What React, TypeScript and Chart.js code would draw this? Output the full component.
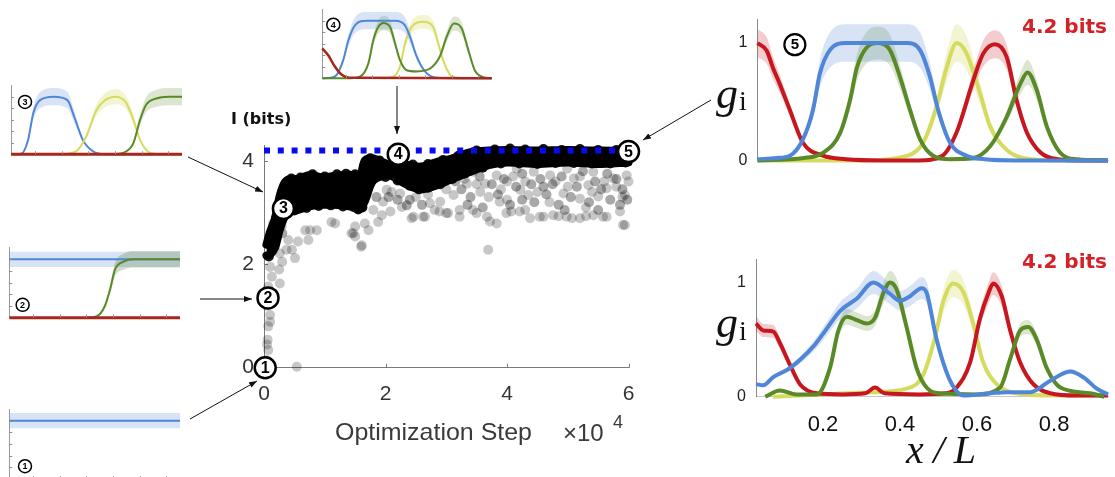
import React, { useEffect, useRef } from "react";
import { Chart, registerables } from "chart.js";

Chart.register(...registerables);
Chart.defaults.font.family = "'Liberation Sans', Arial, sans-serif";

// ================= DATA =================
// ---- main panel: information I (bits) vs optimization step (x 10^4)
const mainXTicks = [0, 2, 4, 6];
const mainYTicks = [0, 2, 4];
const maxInfoBits = 4.2;
// dense (saturated black) band of the scatter: upper / lower edge
const denseX = [0.04, 0.1, 0.18, 0.26, 0.34, 0.42, 0.55, 0.75, 0.95, 1.15, 1.4, 1.58, 1.66, 1.8, 2.05, 2.3, 2.57, 2.85, 3.1, 3.4, 3.7, 4.0, 4.5, 5.0, 5.5, 6.0];
const denseTop = [2.38, 2.63, 2.88, 3.33, 3.58, 3.65, 3.65, 3.73, 3.68, 3.71, 3.73, 3.73, 4.01, 4.05, 3.93, 3.93, 3.89, 3.98, 4.05, 4.17, 4.2, 4.21, 4.2, 4.21, 4.2, 4.19];
const denseBot = [2.17, 2.19, 2.32, 2.67, 2.92, 3.02, 3.05, 3.12, 3.15, 3.15, 3.12, 3.07, 3.22, 3.62, 3.72, 3.57, 3.45, 3.53, 3.65, 3.79, 3.92, 3.97, 3.94, 3.97, 3.94, 3.97];
// near-black samples along the edges of the dense band
const darkDots: [number, number][] = [
  [0.45, 3.66], [0.6, 3.68], [0.8, 3.74], [1.0, 3.7], [1.2, 3.74], [1.35, 3.75], [1.5, 3.74], [1.75, 4.05], [1.9, 4.01],
  [2.2, 3.94], [2.45, 3.93], [2.7, 3.94], [2.95, 4.02], [3.2, 4.1], [3.5, 4.2], [3.8, 4.22], [4.05, 4.24], [4.3, 4.22],
  [4.6, 4.23], [4.9, 4.21], [5.2, 4.23], [5.5, 4.21], [5.8, 4.21], [0.5, 3.04], [0.7, 3.09], [0.9, 3.13], [1.1, 3.14],
  [1.3, 3.12], [1.55, 3.06], [1.62, 3.1], [2.0, 3.69], [2.2, 3.62], [2.4, 3.52], [2.55, 3.45], [2.7, 3.48], [2.9, 3.55],
  [3.1, 3.65], [3.3, 3.75], [3.6, 3.87], [3.9, 3.95], [4.2, 3.95], [4.5, 3.94], [4.8, 3.96], [5.1, 3.96], [5.4, 3.95],
  [5.7, 3.95], [5.95, 3.97], [0.08, 2.15], [0.2, 2.9],
];
// medium grey samples just below the band
const mediumDots: [number, number][] = [
  [3.25, 3.45], [3.4, 3.3], [3.55, 3.7], [3.75, 3.55], [3.85, 3.35], [3.95, 3.65], [4.05, 3.15], [4.15, 3.5], [4.25, 3.75],
  [4.4, 3.55], [4.45, 3.2], [4.55, 3.65], [4.65, 3.35], [4.75, 3.55], [4.85, 3.15], [4.9, 3.7], [5.05, 3.3], [5.15, 3.5],
  [5.25, 3.8], [5.35, 3.2], [5.45, 3.6], [5.55, 3.45], [5.65, 3.75], [5.7, 3.25], [5.8, 3.65], [5.9, 3.45], [5.98, 3.25],
  [3.35, 3.15], [3.6, 3.1], [4.25, 3.25], [4.95, 3.05], [5.5, 3.05], [3.15, 3.6], [2.95, 3.6], [2.6, 3.15], [2.4, 3.25],
  [2.2, 3.25], [2.05, 3.3], [4.6, 3.5], [5.86, 3.15], [2.35, 3.14], [1.85, 3.3], [0.3, 2.6], [0.15, 2.6],
];
// individual translucent samples
const lightDots: [number, number][] = [
  [0.07, 0.34], [0.06, 0.54], [0.1, 0.89], [0.07, 0.8], [0.1, 1.02], [0.07, 1.57], [0.13, 1.76], [0.26, 1.63], [0.1, 1.95],
  [0.37, 2.28], [0.51, 2.12], [0.4, 2.47], [0.56, 2.44], [0.73, 2.47], [0.87, 2.66], [0.76, 2.66], [1.17, 2.79], [1.44, 2.6],
  [1.5, 2.54], [1.6, 2.34], [1.72, 2.66], [1.66, 2.79], [1.88, 2.82], [2.02, 3.44], [2.1, 3.4], [1.96, 3.21], [1.8, 3.05],
  [1.94, 2.95], [2.08, 3.02], [2.24, 3.37], [2.27, 3.11], [2.43, 2.89], [2.62, 2.92], [2.73, 3.18], [2.81, 3.05],
  [2.89, 3.02], [0.29, 2.73], [0.15, 2.79], [0.18, 2.34], [0.26, 2.21], [1.5, 2.73], [1.11, 2.82], [0.68, 2.66], [0.46, 2.28],
  [0.54, 0.02], [1.61, 2.37], [3.69, 2.28], [1.47, 2.6], [2.46, 2.92], [2.65, 2.92], [3.0, 2.99], [3.22, 3.05], [3.5, 2.99],
  [3.67, 2.92], [3.83, 2.79], [3.99, 2.99], [4.21, 3.02], [4.38, 2.89], [4.54, 2.92], [4.76, 2.95], [4.98, 2.92], [5.2, 2.89],
  [5.42, 2.95], [5.64, 2.92], [5.91, 2.76], [5.86, 3.02], [5.94, 2.76], [4.3, 3.05], [4.6, 2.92], [4.85, 2.93], [5.07, 2.89],
  [5.3, 2.93], [5.58, 2.92], [3.03, 2.99], [3.22, 2.92], [3.44, 3.05], [3.72, 2.83], [3.88, 3.21], [4.07, 3.02], [3.56, 3.4],
  [3.12, 3.34], [3.34, 3.56], [3.64, 3.56], [4.0, 3.6], [4.22, 3.44], [4.35, 3.34], [4.71, 3.72], [4.93, 3.37],
  [5.1, 3.66], [5.2, 3.27], [5.34, 3.53], [5.5, 3.31], [5.64, 3.47], [5.94, 3.34], [5.75, 3.66], [4.44, 3.79],
  [4.16, 3.85], [3.83, 3.72], [3.44, 3.79], [4.99, 3.85], [5.42, 3.79], [5.97, 3.72], [2.9, 3.21], [0.04, 0.15], [0.05, 0.45],
  [0.04, 1.2], [0.05, 1.4], [0.25, 1.9], [0.3, 2.05], [3.3, 3.65], [3.5, 3.55], [3.9, 3.45], [4.1, 3.7], [4.3, 3.6], [4.5, 3.4],
  [4.8, 3.6], [5.0, 3.5], [5.2, 3.7], [5.4, 3.4], [5.6, 3.6], [5.8, 3.5], [6.0, 3.6], [4.7, 3.2], [5.3, 3.1], [4.0, 3.25],
  [3.7, 3.3], [5.9, 3.3], [3.2, 3.8], [2.5, 3.3], [2.7, 3.35], [3.0, 3.45],
];
// circled stage markers on the main curve
const stageX = [0.02, 0.066, 0.32, 2.21, 6.0];
const stageY = [0, 1.35, 3.08, 4.13, 4.18];
const stageText = ["1", "2", "3", "4", "5"];

// ---- right top panel (stage 5), g_i vs x/L
const trRedX = [0.03, 0.054, 0.07, 0.088, 0.114, 0.148, 0.2, 0.26, 0.35, 0.45, 0.51, 0.547, 0.59, 0.616, 0.647, 0.677, 0.703, 0.729, 0.764, 0.81, 0.87, 0.94];
const trRedY = [1.0, 0.935, 0.79, 0.65, 0.43, 0.15, 0.04, 0.01, 0.0, 0.0, 0.04, 0.24, 0.68, 0.91, 0.99, 0.88, 0.51, 0.24, 0.07, 0.01, 0.0, 0.0];
const trBlueX = [0.03, 0.08, 0.114, 0.148, 0.174, 0.192, 0.218, 0.26, 0.34, 0.417, 0.452, 0.478, 0.499, 0.53, 0.573, 0.62, 0.7, 0.94];
const trBlueY = [0.01, 0.02, 0.04, 0.18, 0.43, 0.74, 0.94, 1.0, 1.0, 1.0, 0.94, 0.71, 0.43, 0.15, 0.04, 0.01, 0.0, 0.0];
const trGreenX = [0.03, 0.15, 0.2, 0.244, 0.27, 0.288, 0.313, 0.344, 0.374, 0.4, 0.426, 0.452, 0.486, 0.53, 0.59, 0.634, 0.677, 0.712, 0.731, 0.755, 0.781, 0.816, 0.86, 0.94];
const trGreenY = [0.0, 0.02, 0.065, 0.23, 0.51, 0.79, 0.96, 1.0, 0.94, 0.71, 0.43, 0.18, 0.04, 0.01, 0.02, 0.12, 0.37, 0.65, 0.75, 0.6, 0.29, 0.065, 0.01, 0.0];
const trYellowX = [0.03, 0.3, 0.42, 0.46, 0.495, 0.521, 0.547, 0.573, 0.608, 0.634, 0.677, 0.72, 0.8, 0.94];
const trYellowY = [0.0, 0.0, 0.04, 0.15, 0.46, 0.79, 1.0, 0.91, 0.57, 0.29, 0.09, 0.02, 0.0, 0.0];

// ---- right bottom panel
const brXTicks = [0.2, 0.4, 0.6, 0.8];
const brXTickLabels = ["0.2", "0.4", "0.6", "0.8"];
const brRedX = [0.026, 0.045, 0.071, 0.088, 0.114, 0.14, 0.184, 0.25, 0.31, 0.335, 0.36, 0.45, 0.52, 0.547, 0.582, 0.608, 0.63, 0.642, 0.664, 0.686, 0.712, 0.746, 0.79, 0.86, 0.94];
const brRedY = [0.64, 0.58, 0.57, 0.47, 0.28, 0.11, 0.03, 0.02, 0.03, 0.08, 0.03, 0.02, 0.03, 0.08, 0.3, 0.69, 0.91, 0.99, 0.88, 0.58, 0.3, 0.11, 0.03, 0.01, 0.01];
const brBlueX = [0.026, 0.045, 0.07, 0.114, 0.175, 0.2, 0.244, 0.288, 0.331, 0.374, 0.4, 0.426, 0.456, 0.469, 0.495, 0.53, 0.565, 0.634, 0.677, 0.738, 0.79, 0.842, 0.876, 0.911, 0.94];
const brBlueY = [0.11, 0.1, 0.17, 0.25, 0.44, 0.55, 0.75, 0.86, 1.0, 0.9, 0.84, 0.88, 0.95, 0.91, 0.5, 0.14, 0.01, 0.03, 0.04, 0.04, 0.14, 0.22, 0.17, 0.07, 0.02];
const brGreenX = [0.05, 0.088, 0.131, 0.184, 0.218, 0.24, 0.262, 0.288, 0.313, 0.335, 0.357, 0.374, 0.391, 0.417, 0.443, 0.469, 0.504, 0.6, 0.66, 0.686, 0.712, 0.733, 0.755, 0.781, 0.816, 0.894, 0.93];
const brGreenY = [0.0, 0.055, 0.02, 0.02, 0.25, 0.58, 0.7, 0.67, 0.64, 0.69, 0.91, 1.0, 0.94, 0.61, 0.25, 0.08, 0.03, 0.02, 0.08, 0.33, 0.58, 0.61, 0.5, 0.25, 0.08, 0.03, 0.0];
const brYellowX = [0.071, 0.2, 0.33, 0.417, 0.46, 0.491, 0.512, 0.538, 0.565, 0.59, 0.616, 0.651, 0.7, 0.8, 0.94];
const brYellowY = [0.0, 0.02, 0.04, 0.07, 0.19, 0.52, 0.83, 0.99, 0.91, 0.64, 0.3, 0.11, 0.03, 0.01, 0.01];

// ---- small insets (stages 1-4), x in [0,1]
const insetXTicks = [0.14, 0.296, 0.452, 0.608, 0.764, 0.92];
const insetYTicks = [0.2, 0.4, 0.6, 0.8, 1.0];
const in3BlueX = [0.01, 0.06, 0.1, 0.13, 0.17, 0.25, 0.33, 0.37, 0.42, 0.48, 0.55, 1.0];
const in3BlueY = [0, 0.01, 0.25, 0.71, 0.94, 1.0, 0.94, 0.65, 0.25, 0.05, 0, 0];
const in3YellowX = [0.3, 0.38, 0.44, 0.5, 0.55, 0.61, 0.67, 0.71, 0.755, 0.8, 0.86];
const in3YellowY = [0, 0.05, 0.31, 0.77, 0.94, 1.0, 0.91, 0.65, 0.25, 0.05, 0];
const in3GreenX = [0.6, 0.66, 0.715, 0.755, 0.79, 0.85, 0.92, 1.0];
const in3GreenY = [0, 0.03, 0.19, 0.6, 0.86, 0.97, 1.0, 1.0];
const in3RedX = [0, 1];
const in3RedY = [0, 0];
const in2BlueX = [0, 1];
const in2BlueY = [1, 1];
const in2GreenX = [0.45, 0.51, 0.56, 0.59, 0.62, 0.67, 0.73, 1.0];
const in2GreenY = [0, 0.02, 0.2, 0.48, 0.83, 0.96, 1.0, 1.0];
const in2RedX = [0, 1];
const in2RedY = [0, 0];
const in1BlueX = [0, 1];
const in1BlueY = [1, 1];
const in4RedX = [0, 0.035, 0.075, 0.115, 0.16, 1.0];
const in4RedY = [0.52, 0.4, 0.2, 0.06, 0.01, 0];
const in4BlueX = [0, 0.05, 0.085, 0.124, 0.154, 0.193, 0.262, 0.43, 0.488, 0.518, 0.557, 0.606, 0.675, 1.0];
const in4BlueY = [0, 0.01, 0.06, 0.32, 0.66, 0.92, 1.0, 1.0, 0.92, 0.72, 0.38, 0.12, 0.01, 0];
const in4GreenX = [0, 0.15, 0.222, 0.272, 0.301, 0.33, 0.36, 0.4, 0.43, 0.458, 0.498, 0.557, 0.636, 0.694, 0.734, 0.777, 0.822, 0.862, 0.9, 0.95, 1.0];
const in4GreenY = [0, 0, 0.03, 0.26, 0.66, 0.89, 0.96, 0.89, 0.6, 0.32, 0.14, 0.12, 0.17, 0.38, 0.72, 0.95, 0.87, 0.49, 0.14, 0.02, 0];
const in4YellowX = [0.35, 0.42, 0.458, 0.488, 0.527, 0.596, 0.655, 0.685, 0.714, 0.754, 0.793, 0.85];
const in4YellowY = [0, 0.03, 0.2, 0.6, 0.89, 0.98, 0.89, 0.6, 0.31, 0.06, 0.01, 0];

// ================= STYLE =================
const BLUE = "#4f86d8";
const YELLOW = "#d5db5f";
const GREEN = "#5a8a28";
const RED = "#c8161f";
const INSET_RED = "#a8261c";
const BLUE_BAND = "rgba(79,134,216,0.22)";
const YELLOW_BAND = "rgba(213,219,95,0.28)";
const GREEN_BAND = "rgba(90,138,40,0.22)";
const RED_BAND = "rgba(200,22,31,0.22)";

type Rect = { x: number; y: number; w: number; h: number };
type Area = { l: number; r: number; t: number; b: number };
type Curve = { xs: number[]; ys: number[]; color: string; band: string; spread: number; width: number };

const SANS = "'Liberation Sans', Arial, sans-serif";

// curves listed bottom-to-top; Chart.js draws higher `order` first
function curveDatasets(curves: Curve[]) {
  const bands: any[] = [];
  const lines: any[] = [];
  const n = curves.length;
  curves.forEach((c, k) => {
    const pts = (f: (v: number) => number) => c.xs.map((x, i) => ({ x, y: f(c.ys[i]) }));
    if (c.spread > 0) {
      bands.push({ data: pts((v) => v * (1 + c.spread)), order: 200 - k, borderWidth: 0, borderColor: "rgba(0,0,0,0)", pointRadius: 0, fill: false, cubicInterpolationMode: "monotone", clip: false });
      bands.push({ data: pts((v) => v * (1 - c.spread)), order: 200 - k, borderWidth: 0, borderColor: "rgba(0,0,0,0)", pointRadius: 0, fill: "-1", backgroundColor: c.band, cubicInterpolationMode: "monotone", clip: false });
    }
    lines.push({ data: pts((v) => v), order: n - k, borderColor: c.color, borderWidth: c.width, pointRadius: 0, fill: false, cubicInterpolationMode: "monotone", clip: false, borderCapStyle: "butt", borderJoinStyle: "round" });
  });
  return [...bands, ...lines];
}

function linScale(min: number, max: number, size: number, o: any = {}) {
  const s: any = {
    type: "linear",
    min,
    max,
    afterFit: (sc: any) => {
      if (sc.isHorizontal()) sc.height = size;
      else sc.width = size;
    },
    grid: { display: false, drawTicks: false, tickLength: 0 },
    border: { display: o.border !== false, color: o.borderColor || "#8a8a8a", width: 1 },
    ticks: { display: !!o.tickVals, padding: o.pad ?? 8, color: o.color || "#222", font: o.font || { size: 16 }, maxRotation: 0, autoSkip: false },
  };
  if (o.tickVals) s.afterBuildTicks = (sc: any) => { sc.ticks = o.tickVals.map((v: number) => ({ value: v })); };
  if (o.labels) s.ticks.callback = (_v: any, i: number) => o.labels[i];
  return s;
}

function innerTicksPlugin(xVals: number[], yVals: number[], len: number, color: string, before: boolean) {
  const draw = (chart: any) => {
    const { ctx, chartArea: a, scales } = chart;
    ctx.save();
    ctx.strokeStyle = color;
    ctx.lineWidth = 1;
    ctx.beginPath();
    xVals.forEach((v) => {
      const px = Math.round(scales.x.getPixelForValue(v)) + 0.5;
      ctx.moveTo(px, a.bottom);
      ctx.lineTo(px, a.bottom - len);
    });
    yVals.forEach((v) => {
      const py = Math.round(scales.y.getPixelForValue(v)) + 0.5;
      ctx.moveTo(a.left, py);
      ctx.lineTo(a.left + len, py);
    });
    ctx.stroke();
    ctx.restore();
  };
  return before ? { id: "innerTicks", beforeDatasetsDraw: draw } : { id: "innerTicks", afterDatasetsDraw: draw };
}

function marksPlugin(xs: number[], ys: number[], texts: string[], r: number, lw: number, font: string) {
  return {
    id: "marks",
    afterDatasetsDraw(chart: any) {
      const { ctx, scales } = chart;
      ctx.save();
      xs.forEach((v, i) => {
        const px = scales.x.getPixelForValue(v);
        const py = scales.y.getPixelForValue(ys[i]);
        ctx.beginPath();
        ctx.arc(px, py, r, 0, Math.PI * 2);
        ctx.fillStyle = "#fff";
        ctx.fill();
        ctx.lineWidth = lw;
        ctx.strokeStyle = "#000";
        ctx.stroke();
        ctx.fillStyle = "#000";
        ctx.font = font;
        ctx.textAlign = "center";
        ctx.textBaseline = "middle";
        ctx.fillText(texts[i], px, py + 0.5);
      });
      ctx.restore();
    },
  };
}

function baseOptions(box: Rect, area: Area, scales: any) {
  return {
    animation: false,
    responsive: false,
    maintainAspectRatio: false,
    devicePixelRatio: 1,
    events: [],
    layout: { padding: { left: 0, top: area.t - box.y, right: box.x + box.w - area.r, bottom: 0 } },
    plugins: { legend: { display: false }, tooltip: { enabled: false }, title: { display: false } },
    scales,
  };
}

// ================= LAYOUT =================
const MAIN_BOX: Rect = { x: 196, y: 100, w: 464, h: 345 };
const MAIN_AREA: Area = { l: 264, r: 628.5, t: 145.4, b: 367.7 };
const TR_BOX: Rect = { x: 700, y: 0, w: 415, h: 180 };
const TR_AREA: Area = { l: 757.5, r: 1108, t: 18.6, b: 161 };
const BR_BOX: Rect = { x: 700, y: 240, w: 415, h: 237 };
const BR_AREA: Area = { l: 756, r: 1108, t: 251.9, b: 396.7 };
const IN3_BOX: Rect = { x: 0, y: 80, w: 192, h: 82 };
const IN3_AREA: Area = { l: 11, r: 182, t: 85.2, b: 154.3 };
const IN2_BOX: Rect = { x: 0, y: 240, w: 190, h: 85 };
const IN2_AREA: Area = { l: 9.3, r: 180, t: 247.6, b: 317.7 };
const IN1_BOX: Rect = { x: 0, y: 400, w: 190, h: 84 };
const IN1_AREA: Area = { l: 9.3, r: 180, t: 409, b: 479.1 };
const IN4_BOX: Rect = { x: 310, y: 0, w: 192, h: 86 };
const IN4_AREA: Area = { l: 322.3, r: 491.7, t: 9.2, b: 78.3 };

function mainConfig() {
  const box = MAIN_BOX, ar = MAIN_AREA;
  const tickFont = { size: 21, family: SANS };
  const dots = (arr: [number, number][]) => arr.map(([x, y]) => ({ x, y }));
  return {
    type: "line",
    data: {
      datasets: [
        { data: denseX.map((x, i) => ({ x, y: denseTop[i] })), order: 10, borderColor: "#000", borderWidth: 8, pointRadius: 0, fill: false, tension: 0.3, clip: false, borderJoinStyle: "round", borderCapStyle: "round" },
        { data: denseX.map((x, i) => ({ x, y: denseBot[i] })), order: 10, borderColor: "#000", borderWidth: 8, pointRadius: 0, fill: "-1", backgroundColor: "#000", tension: 0.3, clip: false, borderJoinStyle: "round", borderCapStyle: "round" },
        { type: "scatter", data: dots(lightDots), order: 6, backgroundColor: "rgba(0,0,0,0.22)", borderWidth: 0, pointRadius: 5, clip: false },
        { type: "scatter", data: dots(mediumDots), order: 5, backgroundColor: "rgba(0,0,0,0.34)", borderWidth: 0, pointRadius: 5, clip: false },
        { type: "scatter", data: dots(darkDots), order: 4, backgroundColor: "rgba(0,0,0,0.92)", borderWidth: 0, pointRadius: 5, clip: false },
        { data: [{ x: 0, y: maxInfoBits }, { x: 6, y: maxInfoBits }], order: 0, borderColor: "#0a0af0", borderWidth: 6, borderDash: [6, 7.8], pointRadius: 0, fill: false, clip: false },
      ],
    },
    options: baseOptions(box, ar, {
      x: linScale(0, 6, box.y + box.h - ar.b, { tickVals: mainXTicks, pad: 14, font: tickFont, color: "#333", borderColor: "#7a7a7a" }),
      y: linScale(0, 4.3, ar.l - box.x, { tickVals: mainYTicks, pad: 10, font: tickFont, color: "#333", borderColor: "#7a7a7a" }),
    }),
    plugins: [innerTicksPlugin([2, 4, 6], [2, 4], 4, "#7a7a7a", true), marksPlugin(stageX, stageY, stageText, 10.5, 2.5, `bold 16px ${SANS}`)],
  };
}

function panelConfig(box: Rect, area: Area, xMin: number, xMax: number, curves: Curve[], bottomTicks: boolean, marks: any[]) {
  return {
    type: "line",
    data: { datasets: curveDatasets(curves) },
    options: baseOptions(box, area, {
      x: linScale(xMin, xMax, box.y + box.h - area.b, bottomTicks ? { tickVals: brXTicks, labels: brXTickLabels, pad: 15, font: { size: 22, family: SANS }, color: "#111", borderColor: "#c8c8c8" } : { borderColor: "#c8c8c8" }),
      y: linScale(0, 1.2, area.l - box.x, { tickVals: [0, 1], pad: 10, font: { size: 16, family: SANS }, color: "#222", borderColor: "#8a8a8a" }),
    }),
    plugins: marks,
  };
}

function insetConfig(box: Rect, area: Area, curves: Curve[], mark: { x: number; y: number; t: string }) {
  return {
    type: "line",
    data: { datasets: curveDatasets(curves) },
    options: baseOptions(box, area, {
      x: linScale(0, 1, box.y + box.h - area.b, { border: false }),
      y: linScale(0, 1.2, area.l - box.x, { borderColor: "#9a9a9a" }),
    }),
    plugins: [innerTicksPlugin(insetXTicks, insetYTicks, 3, "#8f8f8f", false), marksPlugin([mark.x], [mark.y], [mark.t], 6.5, 1.5, `bold 9px ${SANS}`)],
  };
}

const trCurves: Curve[] = [
  { xs: trYellowX, ys: trYellowY, color: YELLOW, band: YELLOW_BAND, spread: 0.16, width: 4 },
  { xs: trRedX, ys: trRedY, color: RED, band: RED_BAND, spread: 0.12, width: 4 },
  { xs: trGreenX, ys: trGreenY, color: GREEN, band: GREEN_BAND, spread: 0.14, width: 4 },
  { xs: trBlueX, ys: trBlueY, color: BLUE, band: BLUE_BAND, spread: 0.16, width: 4 },
];
const brCurves: Curve[] = [
  { xs: brYellowX, ys: brYellowY, color: YELLOW, band: YELLOW_BAND, spread: 0.12, width: 4 },
  { xs: brRedX, ys: brRedY, color: RED, band: RED_BAND, spread: 0.1, width: 4 },
  { xs: brGreenX, ys: brGreenY, color: GREEN, band: GREEN_BAND, spread: 0.1, width: 4 },
  { xs: brBlueX, ys: brBlueY, color: BLUE, band: BLUE_BAND, spread: 0.1, width: 4 },
];
const in3Curves: Curve[] = [
  { xs: in3BlueX, ys: in3BlueY, color: BLUE, band: BLUE_BAND, spread: 0.15, width: 2 },
  { xs: in3YellowX, ys: in3YellowY, color: YELLOW, band: YELLOW_BAND, spread: 0.13, width: 2 },
  { xs: in3GreenX, ys: in3GreenY, color: GREEN, band: GREEN_BAND, spread: 0.15, width: 2 },
  { xs: in3RedX, ys: in3RedY, color: INSET_RED, band: RED_BAND, spread: 0, width: 3 },
];
const in2Curves: Curve[] = [
  { xs: in2BlueX, ys: in2BlueY, color: BLUE, band: BLUE_BAND, spread: 0.13, width: 2 },
  { xs: in2GreenX, ys: in2GreenY, color: GREEN, band: "rgba(70,110,40,0.25)", spread: 0.14, width: 2 },
  { xs: in2RedX, ys: in2RedY, color: INSET_RED, band: RED_BAND, spread: 0, width: 3 },
];
const in1Curves: Curve[] = [{ xs: in1BlueX, ys: in1BlueY, color: BLUE, band: BLUE_BAND, spread: 0.13, width: 2 }];
const in4Curves: Curve[] = [
  { xs: in4YellowX, ys: in4YellowY, color: YELLOW, band: YELLOW_BAND, spread: 0.12, width: 2 },
  { xs: in4BlueX, ys: in4BlueY, color: BLUE, band: BLUE_BAND, spread: 0.15, width: 2 },
  { xs: in4GreenX, ys: in4GreenY, color: GREEN, band: GREEN_BAND, spread: 0.13, width: 2 },
  { xs: in4RedX, ys: in4RedY, color: INSET_RED, band: RED_BAND, spread: 0, width: 2.5 },
];

// annotation arrows (page coordinates)
const arrows = [
  [188, 157, 263, 192],
  [200, 299, 252, 299],
  [190, 419, 257, 381],
  [397, 86, 397, 134],
  [711, 100, 643, 140],
];

function ChartCanvas({ box, make }: { box: Rect; make: () => any }) {
  const ref = useRef<HTMLCanvasElement | null>(null);
  useEffect(() => {
    if (!ref.current) return;
    const chart = new Chart(ref.current, make());
    return () => chart.destroy();
  }, []);
  return (
    <canvas
      ref={ref}
      width={box.w}
      height={box.h}
      style={{ position: "absolute", left: box.x, top: box.y, width: box.w, height: box.h, display: "block" }}
    />
  );
}

export default function App() {
  const serif = "'Liberation Serif', 'DejaVu Serif', serif";
  const bold = "'DejaVu Sans', Verdana, sans-serif";
  return (
    <div style={{ position: "fixed", left: 0, top: 0, width: 1115, height: 477, overflow: "hidden", background: "#fff" }}>
      <ChartCanvas box={IN3_BOX} make={() => insetConfig(IN3_BOX, IN3_AREA, in3Curves, { x: 0.082, y: 0.91, t: "3" })} />
      <ChartCanvas box={IN2_BOX} make={() => insetConfig(IN2_BOX, IN2_AREA, in2Curves, { x: 0.078, y: 0.22, t: "2" })} />
      <ChartCanvas box={IN1_BOX} make={() => insetConfig(IN1_BOX, IN1_AREA, in1Curves, { x: 0.092, y: 0.22, t: "1" })} />
      <ChartCanvas box={IN4_BOX} make={() => insetConfig(IN4_BOX, IN4_AREA, in4Curves, { x: 0.065, y: 0.93, t: "4" })} />
      <ChartCanvas box={MAIN_BOX} make={mainConfig} />
      <ChartCanvas
        box={TR_BOX}
        make={() => panelConfig(TR_BOX, TR_AREA, 0.03, 0.94, trCurves, false, [marksPlugin([0.127], [0.986], ["5"], 10.5, 2.2, `bold 15px ${SANS}`)])}
      />
      <ChartCanvas box={BR_BOX} make={() => panelConfig(BR_BOX, BR_AREA, 0.026, 0.94, brCurves, true, [])} />
      <svg width={1115} height={477} style={{ position: "absolute", left: 0, top: 0 }}>
        <defs>
          <marker id="ah" markerWidth="8" markerHeight="6" refX="8" refY="3" orient="auto" markerUnits="userSpaceOnUse">
            <path d="M0,0 L8,3 L0,6 z" fill="#111" />
          </marker>
        </defs>
        {arrows.map(([x1, y1, x2, y2], i) => (
          <line key={i} x1={x1} y1={y1} x2={x2} y2={y2} stroke="#111" strokeWidth={1} markerEnd="url(#ah)" />
        ))}
        <text x={231} y={124} fontFamily={bold} fontWeight="bold" fontSize={16} fill="#111">I (bits)</text>
        <text x={335} y={440} fontFamily={SANS} fontSize={24} fill="#3a3a3a" textLength={197} lengthAdjust="spacingAndGlyphs">Optimization Step</text>
        <text x={563} y={441} fontFamily={SANS} fontSize={24} fill="#3a3a3a">×10</text>
        <text x={613} y={428} fontFamily={SANS} fontSize={18} fill="#3a3a3a">4</text>
        <text x={1107} y={33} textAnchor="end" fontFamily={bold} fontWeight="bold" fontSize={20} fill="#d42027">4.2 bits</text>
        <text x={1107} y={268} textAnchor="end" fontFamily={bold} fontWeight="bold" fontSize={20} fill="#d42027">4.2 bits</text>
        <text x={716} y={107.5} fontFamily={serif} fontStyle="italic" fontSize={44} fill="#111">g</text>
        <text x={739} y={110} fontFamily={serif} fontSize={28} fill="#111">i</text>
        <text x={716} y={337} fontFamily={serif} fontStyle="italic" fontSize={44} fill="#111">g</text>
        <text x={739} y={340} fontFamily={serif} fontSize={28} fill="#111">i</text>
        <text x={906} y={463} fontFamily={serif} fontStyle="italic" fontSize={40} fill="#111" textLength={70} lengthAdjust="spacing">x/L</text>
      </svg>
    </div>
  );
}
